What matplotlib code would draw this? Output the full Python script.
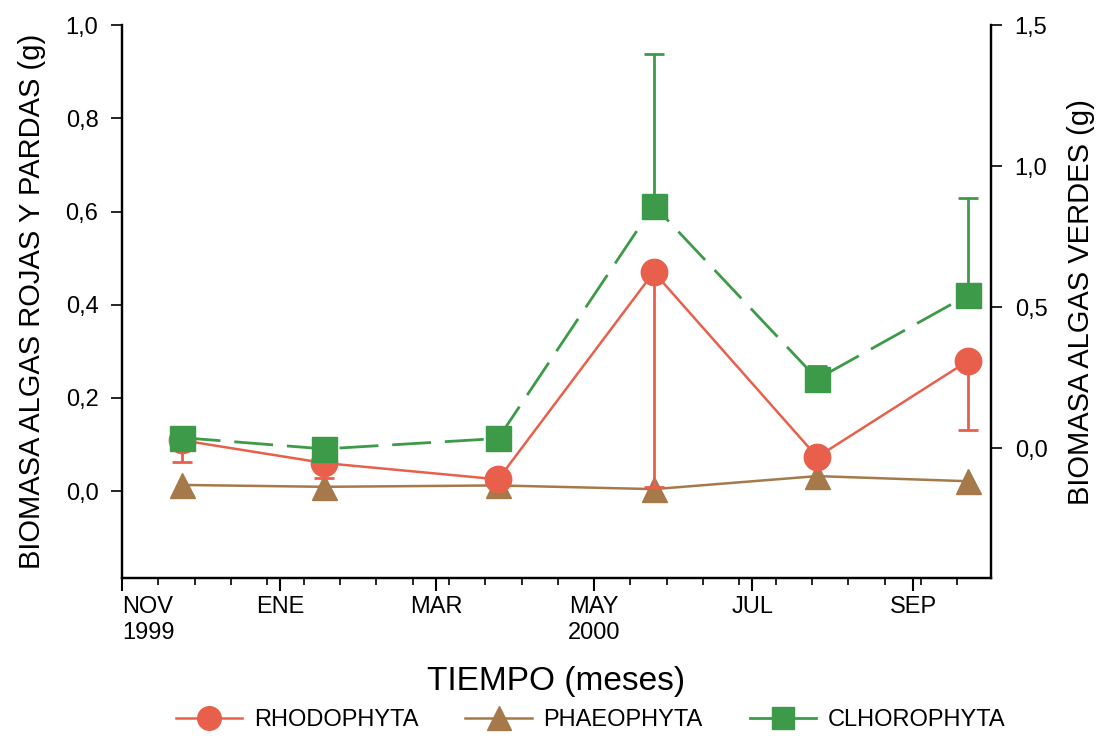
import numpy as np
import matplotlib
matplotlib.use("Agg")
import matplotlib.pyplot as plt
from matplotlib.lines import Line2D
from matplotlib.ticker import FixedLocator, MultipleLocator, FuncFormatter

plt.rcParams['font.family'] = ['Liberation Sans', 'DejaVu Sans']

# sampling dates, in days counted from 1 Nov 1999
dias = [23, 78, 145, 205, 268, 326]

# rojas y pardas (left axis)
rhodo = [0.109, 0.060, 0.025, 0.470, 0.073, 0.279]
rhodo_err = [0.047, 0.033, 0.0, 0.462, 0.0, 0.147]
phaeo = [0.013, 0.009, 0.012, 0.004, 0.032, 0.021]

# verdes (right axis)
clhoro = [0.038, -0.002, 0.035, 0.861, 0.246, 0.543]
clhoro_err = [0.0, 0.0, 0.0, 0.538, 0.045, 0.346]

mes_pos = [0, 61, 121, 182, 243, 305]
mes_lab = ["NOV\n1999", "ENE", "MAR", "MAY\n2000", "JUL", "SEP"]

c_red = '#e8604c'
c_brown = '#a5794a'
c_green = '#3c9a48'

fig = plt.figure(figsize=(11.04, 7.44), dpi=100)
ax = fig.add_axes([0.1105, 0.223, 0.7872, 0.743])
ax2 = ax.twinx()

# phaeophyta
ax.plot(dias, phaeo, color=c_brown, lw=1.8, marker='^', ms=18, mec=c_brown,
        zorder=2)
# rhodophyta, error only downward
ax.errorbar(dias, rhodo, yerr=[rhodo_err, np.zeros(len(rhodo))], color=c_red,
            lw=1.8, marker='o', ms=19, mec=c_red, capsize=7, elinewidth=2,
            capthick=2, zorder=3)
# clhorophyta, error only upward
ax2.errorbar(dias, clhoro, yerr=[np.zeros(len(clhoro)), clhoro_err],
             color=c_green, lw=2, ls=(0, (14, 5)), marker='s', ms=18,
             mec=c_green, capsize=7, elinewidth=2, capthick=2)

ax.set_xlim(0, 335)
ax.set_ylim(-0.187, 1.0)
ax2.set_ylim(-0.46, 1.5)

ax.xaxis.set_major_locator(FixedLocator(mes_pos))
ax.set_xticklabels(mes_lab)
ax.xaxis.set_minor_locator(MultipleLocator(14))
ax.get_xticklabels()[0].set_horizontalalignment('left')
ax.tick_params(axis='x', which='major', length=9, width=1.5, labelsize=17, pad=4)
ax.tick_params(axis='x', which='minor', length=5, width=1.2)

coma = FuncFormatter(lambda v, p: ('%.1f' % v).replace('.', ','))
ax.yaxis.set_major_locator(FixedLocator([0, 0.2, 0.4, 0.6, 0.8, 1.0]))
ax.yaxis.set_major_formatter(coma)
ax2.yaxis.set_major_locator(FixedLocator([0, 0.5, 1.0, 1.5]))
ax2.yaxis.set_major_formatter(coma)
ax.tick_params(axis='y', length=8, width=1.2, labelsize=17, pad=9)
ax2.tick_params(axis='y', length=8, width=1.2, labelsize=17, pad=9)

for a in (ax, ax2):
    a.spines['top'].set_visible(False)
    for s in ('left', 'right', 'bottom'):
        a.spines[s].set_linewidth(1.6)

ax.set_ylabel('BIOMASA ALGAS ROJAS Y PARDAS (g)', fontsize=21, labelpad=14)
ax2.set_ylabel('BIOMASA ALGAS VERDES (g)', fontsize=21, labelpad=14)
ax.set_xlabel('TIEMPO (meses)', fontsize=24, labelpad=16)

handles = [
    Line2D([], [], color=c_red, lw=1.8, marker='o', ms=17, mec=c_red),
    Line2D([], [], color=c_brown, lw=1.8, marker='^', ms=17, mec=c_brown),
    Line2D([], [], color=c_green, lw=2, marker='s', ms=16, mec=c_green),
]
labels = ['RHODOPHYTA', 'PHAEOPHYTA', 'CLHOROPHYTA']
fig.legend(handles, labels, loc='center', ncol=3,
           bbox_to_anchor=(0.535, 0.032), frameon=False, fontsize=17,
           handlelength=2.8, handletextpad=0.5, columnspacing=2.0)

fig.savefig('out.png', dpi=100)
